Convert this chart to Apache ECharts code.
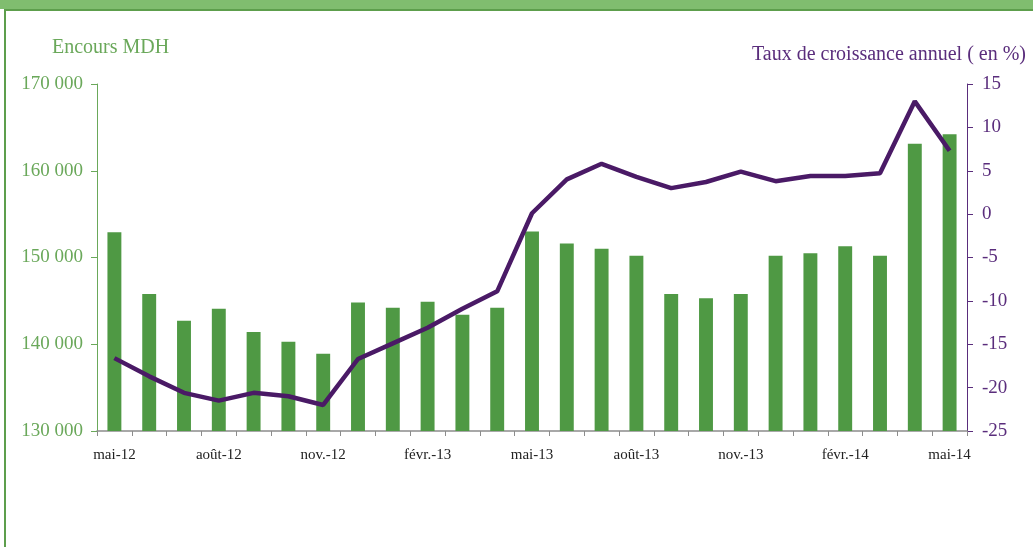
<!DOCTYPE html>
<html>
<head>
<meta charset="utf-8">
<script src="https://cdn.jsdelivr.net/npm/echarts@6/dist/echarts.min.js"></script>
<style>
  html, body { margin: 0; padding: 0; background: #fff; }
  #band { position: absolute; left: 0; top: 0; width: 1033px; height: 9px; background: #80bd6f; }
  #frame { position: absolute; left: 4px; top: 9px; width: 1040px; height: 560px;
           border-left: 2px solid #5d9e4c; border-top: 2px solid #5d9e4c; }
  #chart { position: absolute; left: 0; top: 0; width: 1033px; height: 547px; }
</style>
</head>
<body>
<div id="band"></div>
<div id="frame"></div>
<div id="chart"></div>
<script>
// mois (mai-12 .. mai-14)
var months = [
  "mai-12","juin-12","juil.-12","août-12","sept.-12","oct.-12","nov.-12","déc.-12",
  "janv.-13","févr.-13","mars-13","avr.-13","mai-13","juin-13","juil.-13","août-13",
  "sept.-13","oct.-13","nov.-13","déc.-13","janv.-14","févr.-14","mars-14","avr.-14","mai-14"
];
// encours MDH
var encours = [
  152900, 145800, 142700, 144100, 141400, 140300, 138900, 144800,
  144200, 144900, 143400, 144200, 153000, 151600, 151000, 150200,
  145800, 145300, 145800, 150200, 150500, 151300, 150200, 163100, 164200
];
// taux de croissance annuel (%)
var croissance = [
  -16.6, -18.7, -20.6, -21.5, -20.6, -21.0, -22.0, -16.7,
  -14.9, -13.1, -10.9, -8.9, 0.1, 4.0, 5.8, 4.3,
  3.0, 3.7, 4.9, 3.8, 4.4, 4.4, 4.7, 13.0, 7.3
];

(function() {
  var myChart = echarts.init(document.getElementById("chart"));
  var serif = "Liberation Serif";

  var option = {
    animation: false,
    title: [
      {
        text: "Encours MDH",
        left: 47, top: 33,
        textStyle: { fontFamily: serif, fontWeight: "normal", fontSize: 20, color: "#6aa85a" }
      },
      {
        text: "Taux de croissance annuel ( en %)",
        right: 2, top: 40,
        textStyle: { fontFamily: serif, fontWeight: "normal", fontSize: 20, color: "#5a2d7c" }
      }
    ],
    grid: { left: 97, right: 66, top: 84, bottom: 116 },
    xAxis: {
      type: "category",
      data: months,
      boundaryGap: true,
      axisLine: { onZero: false, lineStyle: { color: "#8c8c8c", width: 1.5 } },
      axisTick: { show: true, interval: 0, length: 5, lineStyle: { color: "#8c8c8c" } },
      axisLabel: { interval: 2, margin: 17, fontFamily: serif, fontSize: 15, color: "#222" }
    },
    yAxis: [
      {
        type: "value",
        min: 130000, max: 170000, interval: 10000,
        axisLine: { show: true, lineStyle: { color: "#6aa85a" } },
        axisTick: { show: true, length: 6, lineStyle: { color: "#6aa85a" } },
        axisLabel: {
          margin: 14, fontFamily: serif, fontSize: 19, color: "#6aa85a",
          formatter: function(v) { return String(v).replace(/(\d{3})$/, " $1"); }
        },
        splitLine: { show: false }
      },
      {
        type: "value",
        min: -25, max: 15, interval: 5,
        position: "right",
        axisLine: { show: true, lineStyle: { color: "#5a2d7c" } },
        axisTick: { show: true, length: 6, lineStyle: { color: "#5a2d7c" } },
        axisLabel: { margin: 15, fontFamily: serif, fontSize: 19, color: "#5a2d7c" },
        splitLine: { show: false }
      }
    ],
    series: [
      {
        name: "Encours",
        type: "bar",
        barWidth: "40%",
        itemStyle: { color: "#4f9944" },
        data: encours
      },
      {
        name: "Taux de croissance",
        type: "line",
        yAxisIndex: 1,
        symbol: "none",
        lineStyle: { color: "#4a1a66", width: 4.5 },
        data: croissance
      }
    ]
  };

  myChart.setOption(option);
  window.addEventListener("resize", function() {
    myChart.resize();
  });
})();
</script>
</body>
</html>
